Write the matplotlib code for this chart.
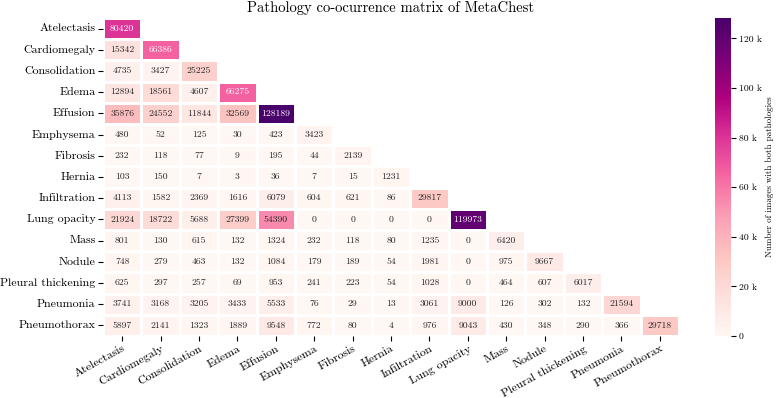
import numpy as np
import matplotlib
matplotlib.use("Agg")
import matplotlib.pyplot as plt
import seaborn as sns
from matplotlib.ticker import FuncFormatter

labels = ["Atelectasis", "Cardiomegaly", "Consolidation", "Edema", "Effusion",
          "Emphysema", "Fibrosis", "Hernia", "Infiltration", "Lung opacity",
          "Mass", "Nodule", "Pleural thickening", "Pneumonia", "Pneumothorax"]

row_atelectasis = [80420]
row_cardiomegaly = [15342, 66386]
row_consolidation = [4735, 3427, 25225]
row_edema = [12894, 18561, 4607, 66275]
row_effusion = [35876, 24552, 11844, 32569, 128189]
row_emphysema = [480, 52, 125, 30, 423, 3423]
row_fibrosis = [232, 118, 77, 9, 195, 44, 2139]
row_hernia = [103, 150, 7, 3, 36, 7, 15, 1231]
row_infiltration = [4113, 1582, 2369, 1616, 6079, 604, 621, 86, 29817]
row_lung_opacity = [21924, 18722, 5688, 27399, 54390, 0, 0, 0, 0, 119973]
row_mass = [801, 130, 615, 132, 1324, 232, 118, 80, 1235, 0, 6420]
row_nodule = [748, 279, 463, 132, 1084, 179, 189, 54, 1981, 0, 975, 9667]
row_pleural = [625, 297, 257, 69, 953, 241, 223, 54, 1028, 0, 464, 607, 6017]
row_pneumonia = [3741, 3168, 3205, 3433, 5533, 76, 29, 13, 3061, 9000, 126, 302, 132, 21594]
row_pneumothorax = [5897, 2141, 1323, 1889, 9548, 772, 80, 4, 976, 9043, 430, 348, 290, 366, 29718]

rows = [row_atelectasis, row_cardiomegaly, row_consolidation, row_edema, row_effusion,
        row_emphysema, row_fibrosis, row_hernia, row_infiltration, row_lung_opacity,
        row_mass, row_nodule, row_pleural, row_pneumonia, row_pneumothorax]

n = len(labels)
M = np.zeros((n, n))
for i, r in enumerate(rows):
    for j, v in enumerate(r):
        M[i, j] = v
        M[j, i] = v
mask = np.triu(np.ones_like(M, dtype=bool), k=1)

plt.rcParams["font.family"] = "serif"
plt.rcParams["font.serif"] = ["cmr10", "DejaVu Serif"]
plt.rcParams["axes.formatter.use_mathtext"] = True

fig = plt.figure(figsize=(7.78, 3.98), dpi=100)
ax = fig.add_axes([103/778, 1 - 336/398, (679-103)/778, (336-18)/398])
cax = fig.add_axes([715/778, 1 - 336/398, 16/778, (336-18)/398])

sns.heatmap(M, mask=mask, cmap="RdPu", annot=True, fmt=".0f",
            annot_kws={"size": 7}, linewidths=0.8, linecolor="white",
            vmin=0, vmax=M.max(), ax=ax, cbar_ax=cax,
            xticklabels=labels, yticklabels=labels)

ax.set_title("Pathology co-ocurrence matrix of MetaChest", fontsize=10.5, pad=4)
ax.tick_params(axis="y", labelsize=8.6, rotation=0, length=3.5, pad=2)
ax.tick_params(axis="x", labelsize=8.6, length=3.5, pad=2)
plt.setp(ax.get_xticklabels(), rotation=29, ha="right", rotation_mode="anchor")

cax.yaxis.set_major_formatter(FuncFormatter(lambda v, p: "0" if v == 0 else f"{int(v/1000)} k"))
cax.tick_params(labelsize=7, length=3.5, pad=2)
cax.set_ylabel("Number of images with both pathologies", fontsize=6.5)
cax.yaxis.set_label_position("right")
cax.yaxis.set_label_coords(51/16, 0.5)

fig.savefig("out.png", dpi=100)
